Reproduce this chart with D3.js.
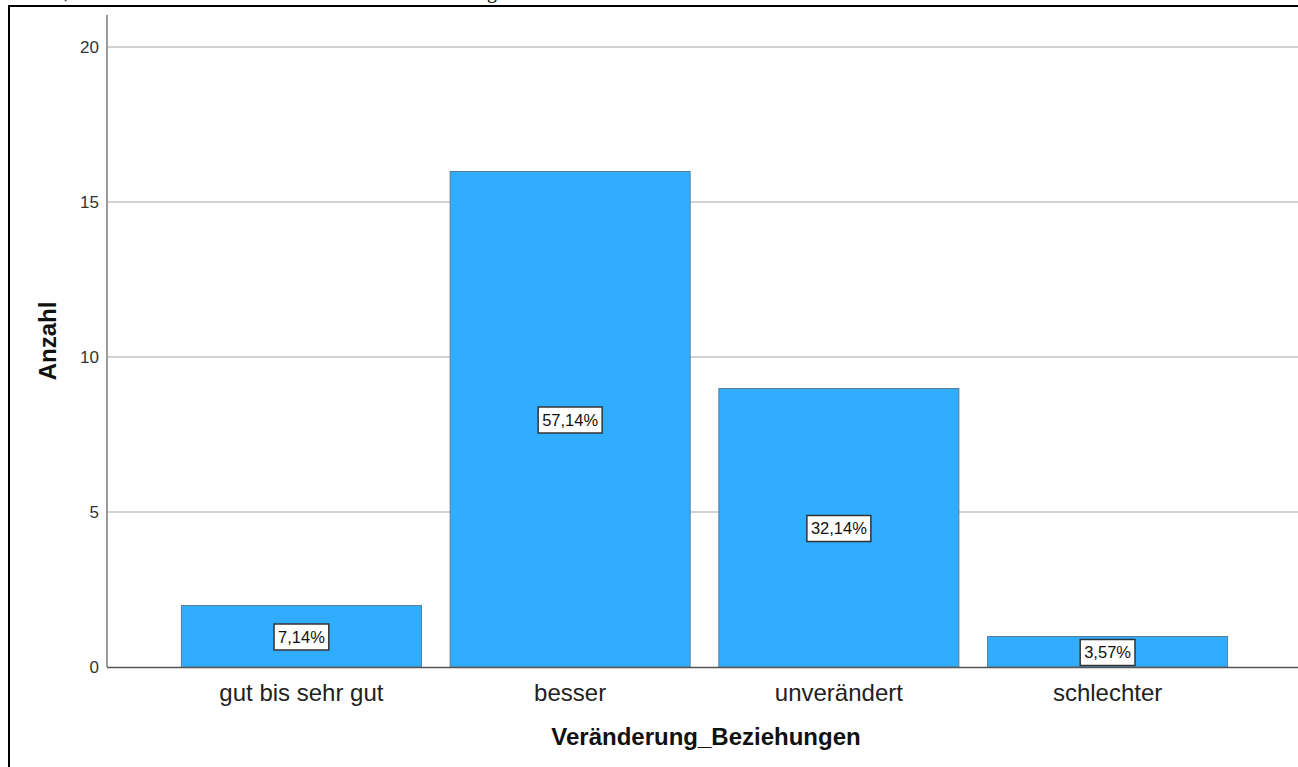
<!DOCTYPE html>
<html><head><meta charset="utf-8">
<script src="https://cdn.jsdelivr.net/npm/d3@7"></script>
<style>html,body{margin:0;padding:0;background:#fff;overflow:hidden}</style>
</head><body>
<svg id="c" width="1298" height="767"></svg>
<script>
const categories = ["gut bis sehr gut", "besser", "unverändert", "schlechter"];
const counts = [2, 16, 9, 1];
const percentLabels = ["7,14%", "57,14%", "32,14%", "3,57%"];
const yTicks = [0, 5, 10, 15, 20];
const xTitle = "Veränderung_Beziehungen";
const yTitle = "Anzahl";

const svg = d3.select("#c");
const font = "'Liberation Sans', Arial, sans-serif";

// frame of the surrounding document
svg.append("line").attr("x1",8).attr("x2",1298).attr("y1",6).attr("y2",6).attr("stroke","#000").attr("stroke-width",2);
svg.append("line").attr("x1",9).attr("x2",9).attr("y1",5).attr("y2",767).attr("stroke","#000").attr("stroke-width",2);
// cut-off document text fragments at the very top
svg.append("text").attr("x",64).attr("y",-3).attr("font-family","'Liberation Serif', serif").attr("font-size",20).text(")");
svg.append("text").attr("x",487).attr("y",-2).attr("font-family","'Liberation Serif', serif").attr("font-size",20).text("g");

const x0 = 107, yBase = 667;
const x = d3.scaleBand().domain(categories).range([x0, 1302]).paddingInner(0.103).paddingOuter(0.275);
const y = d3.scaleLinear().domain([0, 20]).range([yBase, 47]);

// gridlines
svg.append("g").selectAll("line").data(yTicks.filter(t=>t>0)).join("line")
  .attr("x1", x0).attr("x2", 1298)
  .attr("y1", d=>y(d)).attr("y2", d=>y(d))
  .attr("stroke","#d2d2d2").attr("stroke-width",2);

// y axis
const yAxis = d3.axisLeft(y).tickValues(yTicks).tickSize(0).tickPadding(8);
const ga = svg.append("g").attr("transform",`translate(${x0},0)`).call(yAxis);
ga.select(".domain").remove();
ga.selectAll("text").attr("font-family",font).attr("font-size",17).attr("fill","#333");
svg.append("line").attr("x1",x0).attr("x2",x0).attr("y1",15).attr("y2",yBase).attr("stroke","#9a9a9a").attr("stroke-width",2);

// bars
svg.append("g").selectAll("rect").data(counts).join("rect")
  .attr("x",(d,i)=>x(categories[i])+0.5)
  .attr("y",d=>y(d)+0.5)
  .attr("width",x.bandwidth()-1)
  .attr("height",d=>yBase-y(d)-0.5)
  .attr("fill","#31adff")
  .attr("stroke","#5c7f99").attr("stroke-width",1);

// x axis line
svg.append("line").attr("x1",x0).attr("x2",1298).attr("y1",yBase+0.5).attr("y2",yBase+0.5).attr("stroke","#555").attr("stroke-width",1.5);

// x axis labels
const xAxis = d3.axisBottom(x).tickSize(0).tickPadding(0);
const gx = svg.append("g").attr("transform",`translate(0,${yBase})`).call(xAxis);
gx.select(".domain").remove();
gx.selectAll("text").attr("font-family",font).attr("font-size",24).attr("fill","#222").attr("dy",0).attr("y",34);

// percent labels
const lg = svg.append("g").selectAll("g").data(counts).join("g")
  .attr("transform",(d,i)=>`translate(${x(categories[i])+x.bandwidth()/2},${(y(d)+yBase)/2+1})`);
lg.each(function(d,i){
  const g = d3.select(this);
  const t = g.append("text").attr("font-family",font).attr("font-size",16.5).attr("fill","#111")
    .attr("text-anchor","middle").attr("dy","0.36em").text(percentLabels[i]);
  const w = t.node().getComputedTextLength();
  g.insert("rect","text").attr("x",-w/2-4).attr("y",-13).attr("width",w+8).attr("height",26)
    .attr("fill","#fff").attr("stroke","#333").attr("stroke-width",1.5);
});

// titles
svg.append("text").attr("x",706).attr("y",745).attr("text-anchor","middle")
  .attr("font-family",font).attr("font-size",24).attr("font-weight","bold").attr("fill","#111").text(xTitle);
svg.append("text").attr("transform","translate(56,341) rotate(-90)").attr("text-anchor","middle")
  .attr("font-family",font).attr("font-size",24).attr("font-weight","bold").attr("fill","#111").text(yTitle);
</script>
</body></html>
